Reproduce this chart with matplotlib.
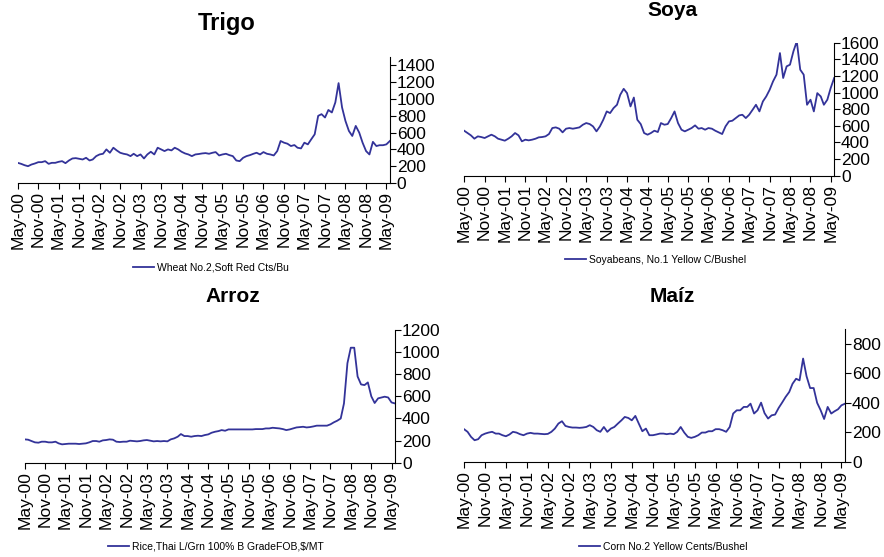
import matplotlib
matplotlib.use("Agg")
import matplotlib.pyplot as plt
import matplotlib.dates as mdates
import pandas as pd

plt.rcParams["font.family"] = ["Liberation Sans", "DejaVu Sans"]

# =========================================================
# DATA (monthly, May-00 .. Jun-09)
# =========================================================

dates = pd.date_range("2000-05-01", periods=110, freq="MS")

wheat = [
    240, 228, 212, 200, 220, 232, 248, 248,
    260, 228, 240, 240, 252, 260, 236, 268, 292, 296, 288, 280,
    300, 268, 280, 320, 340, 348, 400, 360, 420, 388, 360, 348,
    340, 320, 348, 320, 340, 292, 340, 372, 340, 420, 400, 380,
    400, 388, 420, 400, 372, 352, 340, 320, 340, 345, 352, 356,
    348, 360, 368, 328, 340, 348, 332, 320, 268, 260, 300, 320,
    332, 348, 360, 340, 368, 348, 340, 328, 380, 500, 480, 468,
    440, 452, 420, 412, 480, 460, 520, 580, 800, 820, 780, 870,
    840, 960, 1190, 900, 740, 620, 560, 680, 600, 480, 380, 340,
    490, 440, 450, 450, 460, 500,
]

soy = [
    541, 513, 485, 445, 473, 465, 453, 473,
    493, 473, 445, 433, 421, 445, 473, 513, 485, 413, 433, 425,
    433, 445, 461, 465, 473, 501, 573, 581, 565, 521, 565, 573,
    565, 573, 581, 613, 633, 621, 593, 533, 593, 673, 773, 753,
    813, 853, 973, 1045, 993, 833, 940, 673, 620, 513, 493, 513,
    541, 525, 633, 613, 621, 693, 773, 633, 553, 533, 553, 573,
    605, 565, 573, 553, 573, 565, 541, 521, 501, 593, 653, 661,
    693, 725, 733, 693, 733, 793, 853, 773, 893, 953, 1034, 1134,
    1215, 1475, 1175, 1315, 1335, 1496, 1616, 1275, 1215, 853, 914, 773,
    993, 953, 853, 914, 1054, 1175,
]

rice = [
    211, 208, 196, 184, 181, 190, 190, 184,
    184, 190, 175, 166, 169, 172, 172, 172, 169, 172, 175, 184,
    196, 196, 190, 202, 205, 211, 208, 190, 187, 190, 190, 199,
    196, 193, 196, 202, 205, 199, 193, 196, 193, 196, 193, 211,
    220, 235, 259, 241, 241, 235, 241, 244, 241, 250, 256, 271,
    280, 286, 295, 289, 301, 301, 301, 301, 301, 301, 301, 301,
    304, 304, 304, 310, 310, 316, 313, 310, 304, 295, 301, 310,
    319, 322, 325, 319, 322, 328, 335, 335, 335, 335, 347, 365,
    380, 400, 536, 900, 1040, 1040, 780, 708, 702, 726, 600, 540,
    582, 590, 597, 590, 545, 536,
]

corn = [
    221, 203, 169, 146, 153, 180, 191, 198,
    203, 191, 191, 180, 173, 185, 203, 198, 187, 180, 191, 196,
    191, 191, 189, 187, 189, 203, 225, 259, 275, 243, 236, 232,
    232, 230, 232, 236, 248, 236, 214, 203, 236, 203, 225, 236,
    259, 281, 304, 297, 281, 311, 259, 207, 225, 180, 180, 185,
    191, 191, 187, 191, 187, 203, 236, 198, 169, 162, 169, 180,
    198, 198, 207, 207, 221, 221, 214, 203, 236, 327, 349, 349,
    372, 372, 394, 327, 349, 401, 330, 293, 315, 320, 365, 401,
    440, 473, 529, 563, 552, 700, 580, 500, 500, 400, 349, 290,
    372, 327, 342, 356, 383, 394,
]

LINE_COLOR = "#333399"

# =========================================================
# PANEL
# =========================================================

def draw_panel(fig, rect, values, label, ymax, ystep, title, title_xy,
               title_size, legend_xy):

    ax = fig.add_axes(rect)

    ax.plot(dates, values, color=LINE_COLOR, linewidth=1.3, label=label)

    ax.set_xlim(dates[0], dates[-1])
    ax.set_ylim(0, ymax)
    ax.set_yticks(range(0, ymax + 1, ystep) if ymax % ystep == 0
                  else range(0, ymax, ystep))

    ax.yaxis.tick_right()
    ax.spines["top"].set_visible(False)
    ax.spines["left"].set_visible(False)

    ax.xaxis.set_major_locator(mdates.MonthLocator(bymonth=[5, 11]))
    ax.xaxis.set_major_formatter(mdates.DateFormatter("%b-%y"))

    ax.tick_params(axis="x", rotation=90, labelsize=12.5, length=4, pad=2)
    ax.tick_params(axis="y", labelsize=12.5, length=4, pad=1)

    fig.text(title_xy[0], title_xy[1], title, ha="center", va="center",
             fontsize=title_size, fontweight="bold")

    ax.legend(loc="center left", bbox_to_anchor=legend_xy,
              bbox_transform=fig.transFigure, frameon=False, fontsize=7.5,
              handlelength=2, handletextpad=0.3, borderpad=0,
              borderaxespad=0)

    return ax


fig = plt.figure(figsize=(8.84, 5.57), dpi=100)

draw_panel(fig, [0.020, 0.6715, 0.421, 0.226], wheat,
           "Wheat No.2,Soft Red Cts/Bu", 1500, 200, "Trigo",
           (0.2568, 0.9587), 17, (0.1505, 0.5189))

draw_panel(fig, [0.525, 0.6846, 0.4186, 0.2388], soy,
           "Soyabeans, No.1 Yellow C/Bushel", 1600, 200, "Soya",
           (0.7602, 0.982), 15, (0.6391, 0.5332))

draw_panel(fig, [0.0279, 0.1693, 0.4189, 0.2382], rice,
           "Rice,Thai L/Grn 100% B GradeFOB,$/MT", 1200, 200, "Arroz",
           (0.2636, 0.4668), 15, (0.1222, 0.018))

draw_panel(fig, [0.5249, 0.1710, 0.431, 0.2382], corn,
           "Corn No.2 Yellow Cents/Bushel", 900, 200, "Maíz",
           (0.7602, 0.4668), 15, (0.655, 0.018))

fig.savefig("out.png", dpi=100)
